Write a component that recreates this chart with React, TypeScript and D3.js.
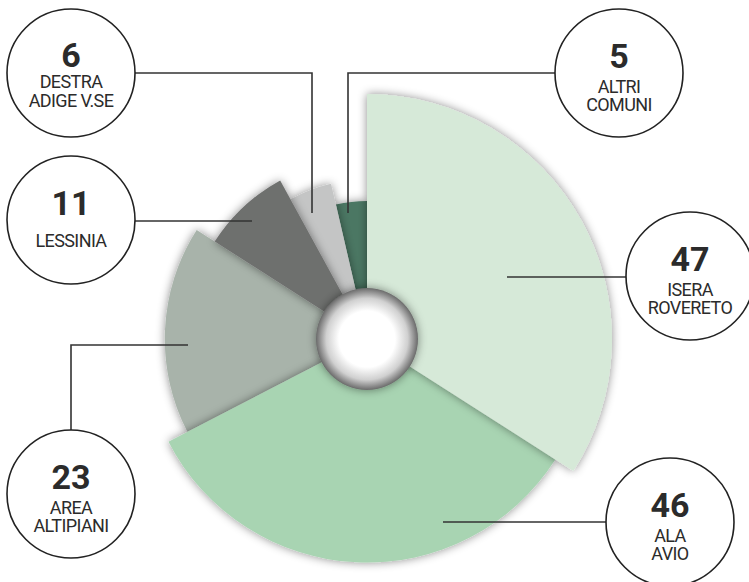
import React from "react";
import * as d3 from "d3";

const categories = ["ISERA ROVERETO", "ALA AVIO", "AREA ALTIPIANI", "LESSINIA", "DESTRA ADIGE V.SE", "ALTRI COMUNI"];
const labelLines = [["ISERA", "ROVERETO"], ["ALA", "AVIO"], ["AREA", "ALTIPIANI"], ["LESSINIA"], ["DESTRA", "ADIGE V.SE"], ["ALTRI", "COMUNI"]];
const values = [47, 46, 23, 11, 6, 5];
const colors = ["#d6e9d8", "#a8d4b2", "#a8b3aa", "#6e6f6e", "#c4c5c5", "#4c7764"];
// drawing order (bottom to top)
const drawOrder = [5, 4, 2, 3, 1, 0];

// layout for callouts (not data)
const callouts = [
  { cx: 690, cy: 276, path: [[507, 277], [626, 277]] },
  { cx: 670, cy: 522, path: [[443, 522], [606, 522]] },
  { cx: 71, cy: 494, path: [[188, 345], [71, 345], [71, 430]] },
  { cx: 71, cy: 220, path: [[252, 221], [135, 221]] },
  { cx: 71, cy: 73, path: [[312, 213], [312, 73], [135, 73]], tight: true },
  { cx: 619, cy: 73, path: [[348, 213], [348, 73], [555, 73]] },
];

const W = 749, H = 582;
const CX = 367, CY = 339;

export default function App() {
  const pie = d3.pie<number>().sort(null).startAngle(0).endAngle(2 * Math.PI);
  const arcsData = pie(values);
  const rScale = d3.scaleLinear().domain([0, values.length - 1]).range([245, 138]);
  const line = d3.line();

  return (
    <svg width={W} height={H} style={{ position: "absolute", left: 0, top: 0, background: "#fff" }}>
      <defs>
        <filter id="shadow" x="-30%" y="-30%" width="160%" height="160%">
          <feGaussianBlur in="SourceAlpha" stdDeviation="5" result="b" />
          <feFlood floodColor="#000" floodOpacity="0.45" />
          <feComposite in2="b" operator="in" result="s" />
          <feMerge>
            <feMergeNode in="s" />
            <feMergeNode in="SourceGraphic" />
          </feMerge>
        </filter>
        <radialGradient id="hole" cx="50%" cy="50%" r="50%">
          <stop offset="0%" stopColor="#ffffff" />
          <stop offset="55%" stopColor="#ffffff" />
          <stop offset="80%" stopColor="#d0d0d0" />
          <stop offset="100%" stopColor="#6a6a6a" />
        </radialGradient>
      </defs>
      <g transform={`translate(${CX},${CY})`}>
        {drawOrder.map((i) => {
          const a = arcsData[i];
          const path = d3.arc<any>().innerRadius(0).outerRadius(rScale(i))(a) as string;
          return <path key={i} d={path} fill={colors[i]} filter="url(#shadow)" />;
        })}
        <circle r={51} fill="url(#hole)" filter="url(#shadow)" />
      </g>
      {callouts.map((c, i) => (
        <g key={"c" + i}>
          <path d={line(c.path as [number, number][]) as string} fill="none" stroke="#333" strokeWidth={1.6} />
          <circle cx={c.cx} cy={c.cy} r={64} fill="#fff" stroke="#222" strokeWidth={1.6} />
          <text x={c.cx} y={c.cy + (c.tight ? -6 : labelLines[i].length === 1 ? -5 : -5)} textAnchor="middle"
            fontFamily="Roboto, sans-serif" fontWeight={700} fontSize={34} fill="#2b2b2b">
            {values[i]}
          </text>
          {labelLines[i].map((t, j) => (
            <text key={j} x={c.cx}
              y={c.cy + (labelLines[i].length === 1 ? 27 : c.tight ? 15 + j * 19 : 20 + j * 18)}
              textAnchor="middle" fontFamily="Roboto, sans-serif" fontSize={18} letterSpacing={-0.6} fill="#2b2b2b">
              {t}
            </text>
          ))}
        </g>
      ))}
    </svg>
  );
}
